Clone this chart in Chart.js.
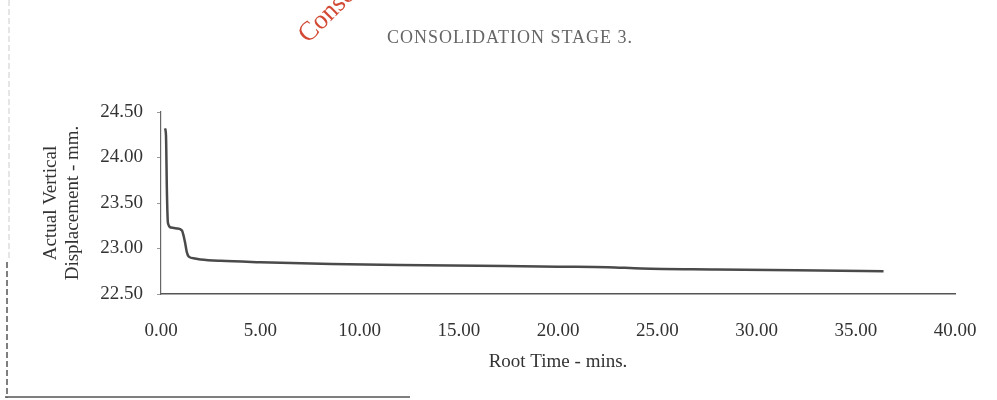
<!DOCTYPE html>
<html>
<head>
<meta charset="utf-8">
<script src="https://cdn.jsdelivr.net/npm/chart.js@4/dist/chart.umd.min.js"></script>
<style>
  html, body { margin: 0; padding: 0; background: #fff; }
  #wrap { width: 997px; height: 400px; }
</style>
</head>
<body>
<div id="wrap"><canvas id="stage3" width="997" height="400"></canvas></div>
<script>
// values
const rootTime = [0.2, 0.25, 0.3, 0.35, 0.5, 0.8, 1.05, 1.2, 1.3, 1.4, 1.7, 2.0, 3.0, 5.0, 8.6, 12.0, 16.0, 20.0, 22.5, 24.2, 28.0, 32.0, 36.4];
const displacement = [24.32, 24.25, 23.6, 23.28, 23.23, 23.22, 23.2, 23.08, 22.96, 22.91, 22.89, 22.88, 22.865, 22.85, 22.83, 22.82, 22.81, 22.80, 22.795, 22.78, 22.77, 22.76, 22.75];
const xTicks = [0, 5, 10, 15, 20, 25, 30, 35, 40];
const yTicks = [22.5, 23.0, 23.5, 24.0, 24.5];

const serif = "'Liberation Serif', 'DejaVu Serif', serif";

// scan leftovers: title, red stamp, page edges
const pageBits = {
  id: 'pageBits',
  beforeDraw(chart) {
    const ctx = chart.ctx;
    ctx.save();
    ctx.fillStyle = '#fff';
    ctx.fillRect(0, 0, chart.width, chart.height);
    // left page edge
    ctx.strokeStyle = '#ccc';
    ctx.lineWidth = 1;
    ctx.setLineDash([6, 3]);
    ctx.beginPath(); ctx.moveTo(9, 0); ctx.lineTo(9, 260); ctx.stroke();
    ctx.strokeStyle = '#555';
    ctx.lineWidth = 1.5;
    ctx.beginPath(); ctx.moveTo(7, 262); ctx.lineTo(7, 398); ctx.stroke();
    ctx.setLineDash([]);
    ctx.beginPath(); ctx.moveTo(5, 397); ctx.lineTo(410, 397); ctx.stroke();
    // title
    ctx.fillStyle = '#666';
    ctx.font = '18px ' + serif;
    ctx.letterSpacing = '1px';
    ctx.textAlign = 'center';
    ctx.textBaseline = 'middle';
    ctx.fillText('CONSOLIDATION STAGE 3.', 510, 38);
    ctx.letterSpacing = '0px';
    // red stamp
    ctx.translate(308, 44);
    ctx.rotate(-Math.PI / 4);
    ctx.fillStyle = '#d24a35';
    ctx.font = '27px ' + serif;
    ctx.textAlign = 'left';
    ctx.textBaseline = 'alphabetic';
    ctx.fillText('Consolidation', 0, 0);
    ctx.restore();
  }
};

new Chart(document.getElementById('stage3'), {
  type: 'scatter',
  data: {
    datasets: [{
      data: rootTime.map((t, i) => ({ x: t, y: displacement[i] })),
      showLine: true,
      borderColor: '#4a4a4a',
      borderWidth: 2.5,
      pointRadius: 0,
      cubicInterpolationMode: 'monotone'
    }]
  },
  options: {
    responsive: false,
    animation: false,
    layout: { padding: { top: 112, left: 0, right: 42, bottom: 0 } },
    plugins: { legend: { display: false }, tooltip: { enabled: false } },
    scales: {
      x: {
        type: 'linear',
        min: 0, max: 40,
        afterFit(s) { s.height = 106; },
        afterBuildTicks(s) { s.ticks = xTicks.map(v => ({ value: v })); },
        // invisible tick marks just push the labels down
        grid: { display: true, drawOnChartArea: false, drawTicks: true, tickLength: 22, color: 'rgba(0,0,0,0)' },
        border: { display: true, color: '#555', width: 1.5 },
        ticks: {
          padding: 4,
          color: '#333',
          font: { family: serif, size: 19 },
          callback: v => v.toFixed(2)
        },
        title: {
          display: true,
          text: 'Root Time - mins.',
          color: '#333',
          font: { family: serif, size: 19 },
          padding: { bottom: 27 }
        }
      },
      y: {
        min: 22.5, max: 24.5,
        afterFit(s) { s.width = 161; },
        afterBuildTicks(s) { s.ticks = yTicks.map(v => ({ value: v })); },
        grid: { drawOnChartArea: false, drawTicks: true, tickLength: 4, color: '#999' },
        border: { display: true, color: '#666', width: 1.2 },
        ticks: {
          padding: 14,
          color: '#333',
          font: { family: serif, size: 19 },
          callback: v => v.toFixed(2)
        },
        title: {
          display: true,
          text: ['Actual Vertical', 'Displacement - mm.'],
          color: '#333',
          font: { family: serif, size: 19, lineHeight: 1.15 },
          padding: { top: 40 }
        }
      }
    }
  },
  plugins: [pageBits]
});
</script>
</body>
</html>
